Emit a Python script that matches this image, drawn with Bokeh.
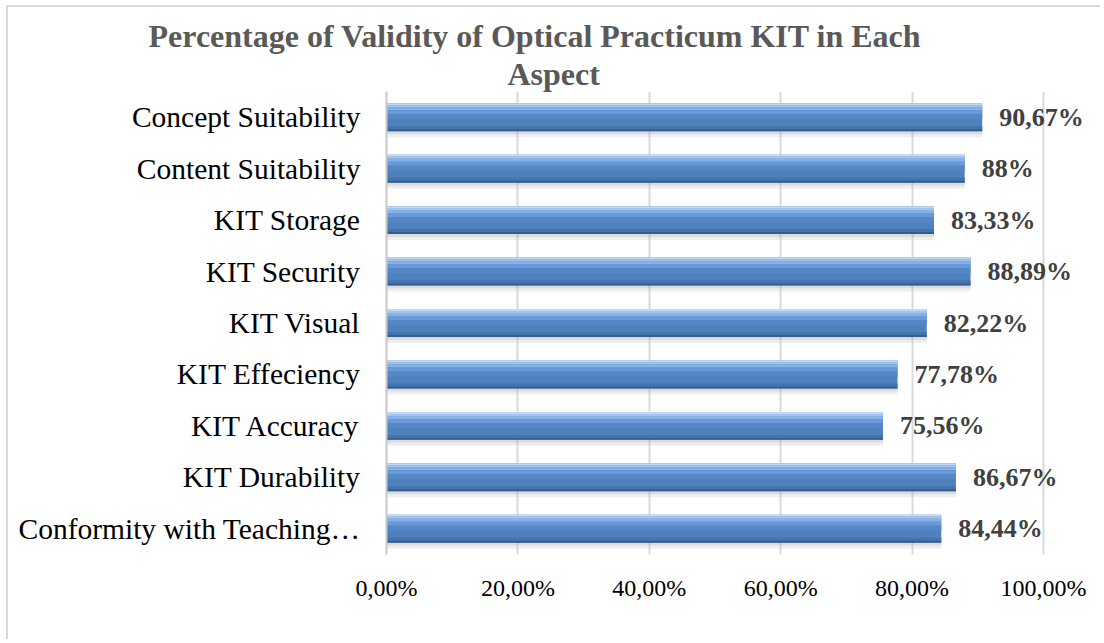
from bokeh.plotting import figure
from bokeh.models import FactorRange, Range1d, FixedTicker, Title, ColumnDataSource
from bokeh.transform import dodge
from bokeh.embed import file_html
from bokeh.resources import INLINE
from bokeh.core.properties import value

categories = ["Concept Suitability", "Content Suitability", "KIT Storage", "KIT Security",
              "KIT Visual", "KIT Effeciency", "KIT Accuracy", "KIT Durability",
              "Conformity with Teaching\u2026"]
values = [90.67, 88.0, 83.33, 88.89, 82.22, 77.78, 75.56, 86.67, 84.44]
value_labels = ["90,67%", "88%", "83,33%", "88,89%", "82,22%", "77,78%", "75,56%", "86,67%", "84,44%"]
tick_values = [0, 20, 40, 60, 80, 100]
tick_labels = ["0,00%", "20,00%", "40,00%", "60,00%", "80,00%", "100,00%"]
title_lines = ["Percentage of Validity of Optical Practicum KIT in Each", "Aspect"]

SERIF = "Liberation Serif"
W, H = 1094, 634
BAND = 51.5  # px per category

src = ColumnDataSource(dict(cat=categories, val=values, lab=value_labels))

p = figure(width=W, height=H, output_backend="svg", toolbar_location=None,
           y_range=FactorRange(factors=list(reversed(categories)), range_padding=0),
           x_range=Range1d(0, 107.15),
           min_border_left=378, min_border_right=12, min_border_top=84, min_border_bottom=87)
p.outline_line_color = None
p.background_fill_color = "white"
p.border_fill_color = "white"
p.styles = {"margin-left": "6px", "margin-top": "5px",
            "border-left": "2px solid #d9d9d9", "border-top": "2px solid #d9d9d9"}

# grid
p.ygrid.grid_line_color = None
p.xgrid.grid_line_color = "#d9d9d9"
p.xgrid.grid_line_width = 2
p.xgrid.ticker = FixedTicker(ticks=tick_values)

# x axis
p.xaxis.ticker = FixedTicker(ticks=tick_values)
p.xaxis.major_label_overrides = {v: t for v, t in zip(tick_values, tick_labels)}
p.xaxis.axis_line_color = None
p.xaxis.major_tick_line_color = None
p.xaxis.major_tick_out = 0
p.xaxis.major_tick_in = 0
p.xaxis.minor_tick_line_color = None
p.xaxis.major_label_standoff = 20
p.xaxis.major_label_text_font = SERIF
p.xaxis.major_label_text_font_size = "24px"
p.xaxis.major_label_text_color = "black"

# y axis
p.yaxis.axis_line_color = "#c8c8c8"
p.yaxis.axis_line_width = 2
p.yaxis.major_tick_line_color = None
p.yaxis.major_tick_out = 0
p.yaxis.major_tick_in = 0
p.yaxis.minor_tick_line_color = None
p.yaxis.major_label_standoff = 26
p.yaxis.major_label_text_font = SERIF
p.yaxis.major_label_text_font_size = "29.5px"
p.yaxis.major_label_text_color = "black"


def strip(top_px, bot_px, color, alpha=1.0):
    off = (top_px + bot_px) / 2.0 / BAND
    h = (top_px - bot_px) / BAND
    p.hbar(y=dodge("cat", off, range=p.y_range), right="val", left=0, height=h,
           source=src, fill_color=color, fill_alpha=alpha, line_color=None)

# shadow
strip(-14, -17, "#9a9a9a", 0.35)
strip(-17, -20, "#c8c8c8", 0.3)
# body
strip(14, -14, "#4f81bd")
strip(14, 12, "#c0d9f6")
strip(12, 10, "#a3c6f0")
strip(10, 7, "#86b1e9")
strip(7, 3, "#6899d8")
strip(3, -2, "#5587c7")
strip(-9, -12, "#4573ad")
strip(-12, -14, "#345c8f")

# value labels
p.text(x="val", y="cat", text="lab", source=src, x_offset=17,
       text_font=value(SERIF), text_font_style="bold", text_font_size="26px",
       text_color="#404040", text_baseline="middle", text_align="left")

# title: two lines, first added is closest to the frame
p.add_layout(Title(text=title_lines[1], align="left", offset=121, standoff=0,
                   text_line_height=0.5,
                   text_font=SERIF, text_font_style="bold", text_font_size="32px",
                   text_color="#595959"), "above")
p.add_layout(Title(text=title_lines[0], align="left", offset=-238, standoff=0,
                   text_line_height=0.5,
                   text_font=SERIF, text_font_style="bold", text_font_size="32px",
                   text_color="#595959"), "above")

open("out.html", "w").write(file_html(p, INLINE))
